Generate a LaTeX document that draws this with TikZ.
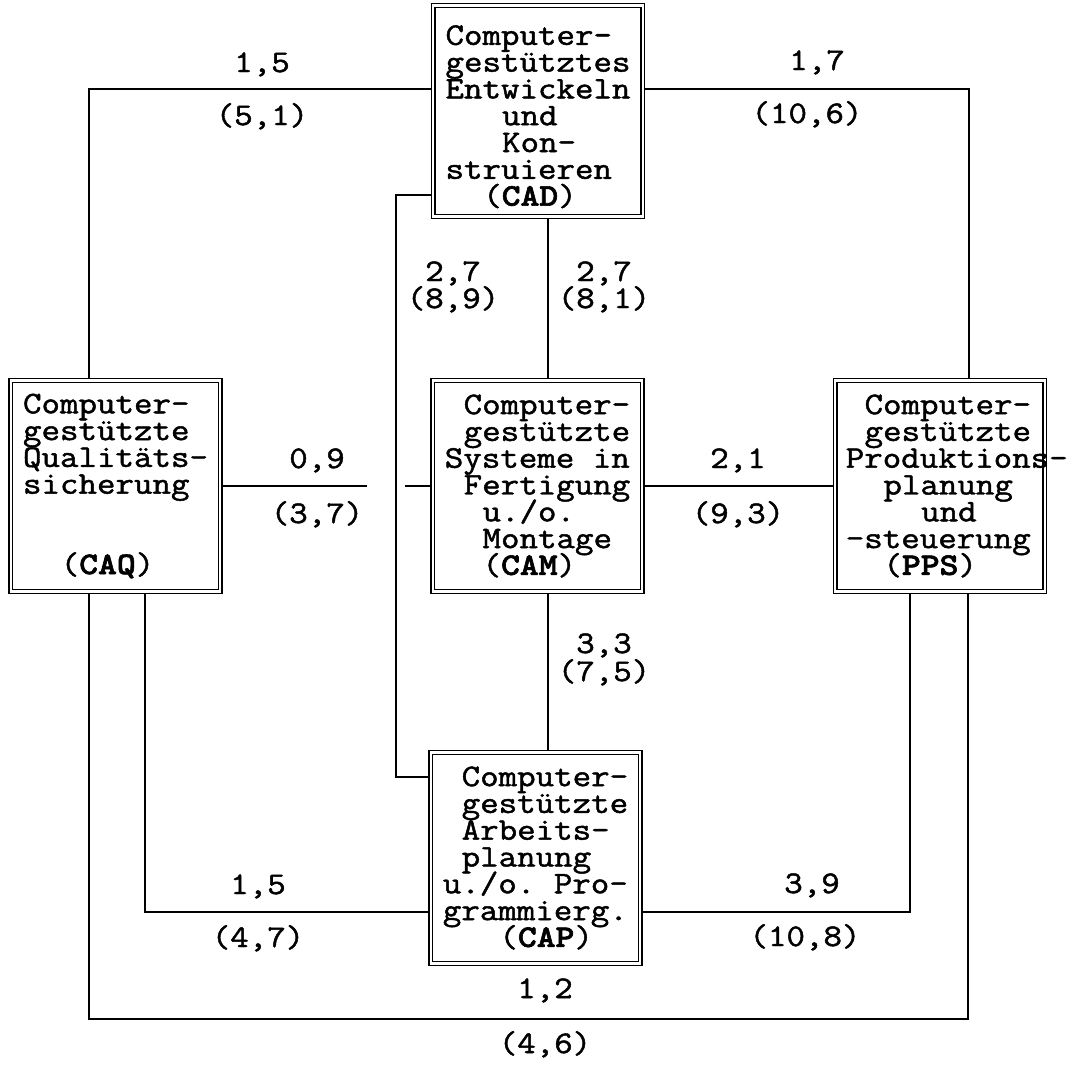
\documentclass[tikz,border=0pt]{standalone}
\usepackage{fontspec}
\usetikzlibrary{backgrounds}
\newfontfamily\cimtt{lmmono12-regular.otf}[FakeStretch=1.142,FakeBold=1.5,BoldFont=lmmonolt10-bold.otf,BoldFeatures={FakeBold=2}]
\newlength{\cimchar}
\setlength{\cimchar}{10.73pt}
\newcommand{\cimpad}[1]{\hspace*{#1\cimchar}}
\newcommand{\cimfont}{\cimtt\fontsize{17.9}{15.25}\selectfont\lineskiplimit=-\maxdimen\frenchspacing}
\tikzset{
  cim module/.style={
    rectangle, draw=black, fill=white,
    line width=0.9pt, double=white, double distance=1.3pt,
    minimum width=4.19cm, minimum height=4.22cm,
    inner sep=0pt, font=\cimfont, align=left
  },
  cim line/.style={
    draw=black, line width=0.9pt
  },
  cim value/.style={
    font=\cimfont, anchor=base, inner sep=0pt
  }
}
\begin{document}
\begin{tikzpicture}[x=0.02cm,y=-0.02cm]
  \useasboundingbox (0,0) rectangle (1082,1065);

  % The CAD text sits a little lower in its frame than the others.
  \node[cim module] (cad) at (538,111) {\rule{0pt}{17.7pt}Computer-\\gestütztes\\Entwickeln\\\cimpad{3}und\\\cimpad{3}Kon-\\struieren\\\cimpad{2}(\textbf{CAD})};
  \node[cim module] (caq) at (115.5,486) {Computer-\\gestützte\\Qualitäts-\\sicherung\\\mbox{}\\\mbox{}\\\cimpad{2}(\textbf{CAQ})};
  \node[cim module] (cam) at (537.5,486) {\cimpad{1}Computer-\\\cimpad{1}gestützte\\Systeme in\\\cimpad{1}Fertigung\\\cimpad{2}u./o.\\\cimpad{2}Montage\\\cimpad{2}(\textbf{CAM})};
  \node[cim module] (pps) at (940,486) {\cimpad{1}Computer-\\\cimpad{1}gestützte\\\makebox[10\cimchar][l]{Produktions-}\\\cimpad{2}planung\\\cimpad{4}und\\-steuerung\\\cimpad{2}(\textbf{PPS})};
  \node[cim module] (cap) at (535.5,858) {\cimpad{1}Computer-\\\cimpad{1}gestützte\\\cimpad{1}Arbeits-\\\cimpad{1}planung\\u./o. Pro-\\grammierg.\\\cimpad{3}(\textbf{CAP})};

  \coordinate (qtop) at (89,89);
  \coordinate (ptop) at (969,89);
  \coordinate (mid) at (548,0);
  \coordinate (dleft) at (396,195);
  \coordinate (aleft) at (396,777);
  \coordinate (gapl) at (367,486);
  \coordinate (gapr) at (405,486);
  \coordinate (qlow) at (145,912);
  \coordinate (plow) at (910,912);
  \coordinate (oleft) at (89,1019);
  \coordinate (oright) at (968,1019);

  % Connections run behind the boxes so the double frames stay clean.
  \begin{scope}[on background layer]
    \draw[cim line] (caq.north -| qtop) |- (cad.west |- qtop);
    \draw[cim line] (cad.east |- ptop) -| (pps.north -| ptop);
    \draw[cim line] (cad.south -| mid) -- (cam.north -| mid);
    \draw[cim line] (cam.south -| mid) -- (cap.north -| mid);
    \draw[cim line] (cad.west |- dleft) -| (aleft) -- (cap.west |- aleft);

    % The CAQ--CAM line is broken where it crosses the CAD--CAP line.
    \draw[cim line] (caq.east) -- (gapl);
    \draw[cim line] (gapr) -- (cam.west);
    \draw[cim line] (cam.east) -- (pps.west);

    \draw[cim line] (caq.south -| qlow) |- (cap.west |- qlow);
    \draw[cim line] (cap.east |- plow) -| (pps.south -| plow);
    \draw[cim line] (caq.south -| oleft) |- (oright) -- (pps.south -| oright);
  \end{scope}

  % Values above and below each line.
  \node[cim value] (vqd) at (262,72) {1,5};
  \node[cim value] (wqd) at (262,125) {(5,1)};
  \node[cim value] (vdp) at (817,70) {1,7};
  \node[cim value] (wdp) at (807,123) {(10,6)};
  \node[cim value] (vqm) at (317,468) {0,9};
  \node[cim value] (wqm) at (317,523) {(3,7)};
  \node[cim value] (vmp) at (738,468) {2,1};
  \node[cim value] (wmp) at (738,523) {(9,3)};
  \node[cim value] (vda) at (453,281) {2,7};
  \node[cim value] (wda) at (453,308) {(8,9)};
  \node[cim value] (vdm) at (604,281) {2,7};
  \node[cim value] (wdm) at (604,308) {(8,1)};
  \node[cim value] (vma) at (604,653) {3,3};
  \node[cim value] (wma) at (604,681) {(7,5)};
  \node[cim value] (vqa) at (258,894) {1,5};
  \node[cim value] (wqa) at (258,947) {(4,7)};
  \node[cim value] (vap) at (812,893) {3,9};
  \node[cim value] (wap) at (805,946) {(10,8)};
  \node[cim value] (vqp) at (545,998) {1,2};
  \node[cim value] (wqp) at (545,1053) {(4,6)};
\end{tikzpicture}
\end{document}
